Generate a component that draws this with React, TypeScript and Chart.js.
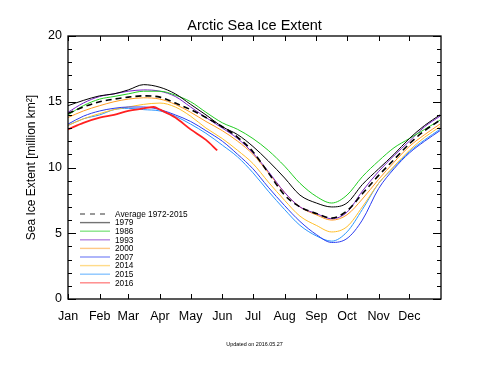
import React, { useEffect, useRef } from 'react';
import { Chart, registerables } from 'chart.js';

Chart.register(...registerables);

const FONT = "'Liberation Sans', Arial, Helvetica, sans-serif";

const MONTHS = ['Jan', 'Feb', 'Mar', 'Apr', 'May', 'Jun', 'Jul', 'Aug', 'Sep', 'Oct', 'Nov', 'Dec'];
const MONTH_START_DAYS = [0, 31, 59, 90, 120, 151, 181, 212, 243, 273, 304, 334];

// sample days (day of year) for the historical series
const DAYS = [0, 15, 31, 45, 59, 74, 90, 105, 120, 135, 151, 166, 181, 196, 212, 227, 243, 258, 273, 288, 304, 319, 334, 349, 364];

const AVG_1972_2015 = [14.1, 14.6, 15.0, 15.2, 15.35, 15.45, 15.35, 14.9, 14.4, 13.8, 13.1, 12.3, 11.2, 9.6, 7.9, 7.0, 6.5, 6.15, 6.7, 8.0, 9.4, 10.6, 11.8, 12.8, 13.6];
const Y1979 = [14.7, 15.1, 15.45, 15.6, 15.9, 16.3, 16.1, 15.6, 14.8, 14.0, 13.1, 12.5, 11.6, 10.5, 9.2, 7.9, 7.3, 7.0, 7.3, 8.7, 9.9, 11.0, 12.2, 13.2, 14.0];
const Y1986 = [14.0, 14.7, 15.2, 15.4, 15.6, 15.8, 15.8, 15.5, 15.0, 14.2, 13.4, 12.9, 12.2, 11.3, 10.1, 8.8, 7.8, 7.3, 7.9, 9.3, 10.5, 11.5, 12.2, 12.9, 13.6];
const Y1993 = [14.2, 14.9, 15.4, 15.6, 15.8, 15.9, 15.8, 15.4, 14.6, 13.8, 13.0, 12.2, 11.1, 9.7, 8.1, 7.0, 6.5, 6.1, 6.6, 8.2, 9.7, 10.9, 12.0, 13.1, 13.9];
const Y2000 = [13.8, 14.3, 14.7, 15.0, 15.2, 15.3, 15.2, 14.8, 14.2, 13.5, 12.8, 12.0, 11.0, 9.6, 8.1, 7.0, 6.4, 6.0, 6.4, 7.6, 9.1, 10.4, 11.6, 12.5, 13.3];
const Y2007 = [13.3, 13.9, 14.3, 14.5, 14.6, 14.6, 14.4, 14.0, 13.5, 12.8, 12.0, 11.0, 9.9, 8.5, 7.1, 5.9, 4.9, 4.3, 4.6, 6.0, 8.4, 9.9, 11.1, 12.0, 12.8];
const Y2014 = [13.2, 13.7, 14.1, 14.4, 14.6, 14.8, 14.9, 14.6, 13.9, 13.0, 12.2, 11.3, 10.3, 8.9, 7.5, 6.3, 5.6, 5.1, 5.5, 7.0, 8.8, 10.1, 11.3, 12.3, 13.1];
const Y2015 = [13.2, 13.7, 14.0, 14.4, 14.5, 14.4, 14.3, 13.9, 13.3, 12.6, 11.7, 10.8, 9.6, 8.2, 6.8, 5.6, 4.8, 4.4, 5.1, 6.8, 8.8, 10.0, 11.2, 12.1, 12.9];

const DAYS_2016 = [0, 9, 15, 31, 45, 59, 74, 84, 90, 105, 120, 135, 146];
const Y2016 = [12.9, 13.2, 13.4, 13.8, 14.0, 14.3, 14.5, 14.6, 14.4, 13.8, 12.9, 12.1, 11.3];

const Y_MIN = 0;
const Y_MAX = 20;
const X_MIN = 0;
const X_MAX = 365;

const TITLE = 'Arctic Sea Ice Extent';
const Y_TITLE = 'Sea Ice Extent [million km²]';
const FOOTNOTE = 'Updated on 2016.05.27';

type Series = { label: string; days: number[]; values: number[]; color: string; width: number; dash?: number[]; order: number };

const SERIES: Series[] = [
  { label: 'Average 1972-2015', days: DAYS, values: AVG_1972_2015, color: '#000000', width: 1.6, dash: [6, 4], order: 1 },
  { label: '1979', days: DAYS, values: Y1979, color: '#000000', width: 1, order: 5 },
  { label: '1986', days: DAYS, values: Y1986, color: '#22cc22', width: 1, order: 5 },
  { label: '1993', days: DAYS, values: Y1993, color: '#7a22c8', width: 1, order: 5 },
  { label: '2000', days: DAYS, values: Y2000, color: '#ff9a22', width: 1, order: 5 },
  { label: '2007', days: DAYS, values: Y2007, color: '#2a3cf0', width: 1, order: 5 },
  { label: '2014', days: DAYS, values: Y2014, color: '#ffbe2a', width: 1, order: 5 },
  { label: '2015', days: DAYS, values: Y2015, color: '#2a96ff', width: 1, order: 5 },
  { label: '2016', days: DAYS_2016, values: Y2016, color: '#ff2020', width: 1.8, order: 0 },
];

const framePlugin = {
  id: 'frame',
  afterDraw(chart: any) {
    const { ctx, chartArea, scales } = chart;
    const { left, right, top, bottom } = chartArea;
    const x = scales.x;
    const y = scales.y;
    ctx.save();
    ctx.strokeStyle = '#000';
    ctx.lineWidth = 1.3;
    ctx.strokeRect(left, top, right - left, bottom - top);
    ctx.lineWidth = 1;
    ctx.beginPath();
    for (let v = Y_MIN; v <= Y_MAX; v++) {
      const py = Math.round(y.getPixelForValue(v)) + 0.5;
      const len = v % 5 === 0 ? 8 : 4;
      ctx.moveTo(left, py);
      ctx.lineTo(left + len, py);
      ctx.moveTo(right, py);
      ctx.lineTo(right - len, py);
    }
    for (const d of MONTH_START_DAYS) {
      const px = Math.round(x.getPixelForValue(d)) + 0.5;
      ctx.moveTo(px, bottom);
      ctx.lineTo(px, bottom - 5);
      ctx.moveTo(px, top);
      ctx.lineTo(px, top + 5);
    }
    ctx.stroke();

    // title
    const cx = (left + right) / 2;
    ctx.fillStyle = '#000';
    ctx.textAlign = 'center';
    ctx.textBaseline = 'alphabetic';
    ctx.font = `14.5px ${FONT}`;
    ctx.fillText(TITLE, cx, 29.5);

    // footnote
    ctx.font = `5.4px ${FONT}`;
    ctx.fillText(FOOTNOTE, cx, 346);

    // y axis title
    ctx.save();
    ctx.translate(32, (top + bottom) / 2);
    ctx.rotate(-Math.PI / 2);
    ctx.font = `12px ${FONT}`;
    ctx.textBaseline = 'middle';
    ctx.fillText(Y_TITLE, 0, 0);
    ctx.restore();

    // legend
    ctx.font = `8.3px ${FONT}`;
    ctx.textAlign = 'left';
    ctx.textBaseline = 'middle';
    SERIES.forEach((s, i) => {
      const ry = 214 + i * 8.6;
      ctx.beginPath();
      ctx.strokeStyle = s.color;
      ctx.globalAlpha = s.dash ? 0.8 : 0.55;
      ctx.lineWidth = s.dash ? 1.2 : 1.4;
      ctx.setLineDash(s.dash ? [5, 5] : []);
      ctx.moveTo(80, ry);
      ctx.lineTo(110, ry);
      ctx.stroke();
      ctx.setLineDash([]);
      ctx.globalAlpha = 1;
      ctx.fillStyle = '#000';
      ctx.fillText(s.label, 115, ry + 0.5);
    });
    ctx.restore();
  },
};

export default function App() {
  const ref = useRef<HTMLCanvasElement | null>(null);
  useEffect(() => {
    if (!ref.current) return;
    const chart = new Chart(ref.current, {
      type: 'line',
      data: {
        datasets: SERIES.map((s) => ({
          label: s.label,
          data: s.days.map((d, i) => ({ x: d, y: s.values[i] })),
          borderColor: s.color,
          borderWidth: s.width,
          borderDash: s.dash || [],
          pointRadius: 0,
          fill: false,
          cubicInterpolationMode: 'monotone' as const,
          order: s.order,
        })),
      },
      options: {
        animation: false,
        responsive: false,
        devicePixelRatio: 1,
        layout: { padding: { top: 36, right: 43, left: 0, bottom: 0 } },
        plugins: { legend: { display: false }, title: { display: false }, tooltip: { enabled: false } },
        scales: {
          x: {
            type: 'linear',
            min: X_MIN,
            max: X_MAX,
            grid: { display: false, drawTicks: false },
            border: { display: false },
            afterBuildTicks: (axis: any) => {
              axis.ticks = MONTH_START_DAYS.map((v) => ({ value: v }));
            },
            afterFit: (scale: any) => {
              scale.height = 71;
            },
            ticks: {
              autoSkip: false,
              maxRotation: 0,
              padding: 10,
              color: '#000',
              font: { family: FONT, size: 12.5 },
              callback: (value: any) => MONTHS[MONTH_START_DAYS.indexOf(Number(value))] ?? '',
            },
          },
          y: {
            min: Y_MIN,
            max: Y_MAX,
            grid: { display: false, drawTicks: false },
            border: { display: false },
            afterFit: (scale: any) => {
              scale.width = 68;
            },
            ticks: {
              stepSize: 5,
              padding: 6,
              color: '#000',
              font: { family: FONT, size: 12.5 },
            },
          },
        },
      },
      plugins: [framePlugin],
    });
    return () => chart.destroy();
  }, []);
  return (
    <div style={{ position: 'absolute', left: 0, top: 0, width: 484, height: 370, background: '#fff' }}>
      <canvas ref={ref} width={484} height={370} style={{ width: 484, height: 370 }} />
    </div>
  );
}
